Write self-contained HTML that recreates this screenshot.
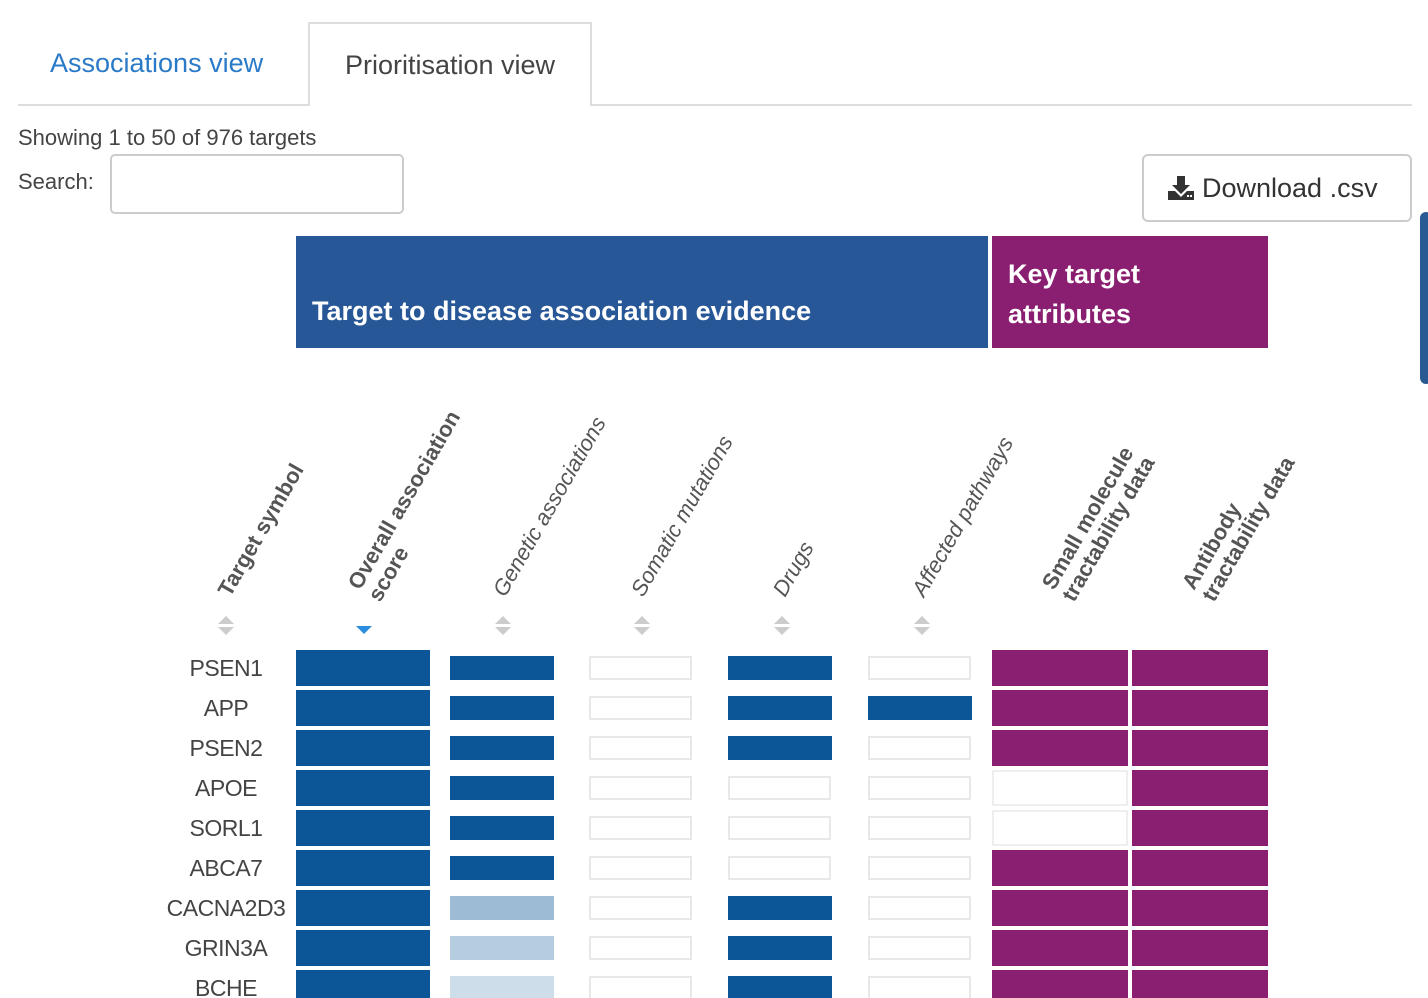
<!DOCTYPE html>
<html><head><meta charset="utf-8"><style>
body{margin:0;width:1428px;height:998px;overflow:hidden;background:#fff;font-family:"Liberation Sans",sans-serif;position:relative}
.abs{position:absolute}
</style></head><body>
<div class="abs" style="left:18px;top:104px;width:1394px;height:2px;background:#ddd"></div>
<div class="abs" style="left:50px;top:48px;font-size:27px;color:#2a7ac8">Associations view</div>
<div class="abs" style="left:308px;top:22px;width:284px;height:84px;border:2px solid #ddd;border-bottom:none;background:#fff;box-sizing:border-box;font-size:27px;color:#444;text-align:center;line-height:82px">Prioritisation view</div>
<div class="abs" style="left:18px;top:125px;font-size:22px;color:#444">Showing 1 to 50 of 976 targets</div>
<div class="abs" style="left:18px;top:169px;font-size:22px;color:#444">Search:</div>
<div class="abs" style="left:110px;top:154px;width:294px;height:60px;border:2px solid #ccc;border-radius:5px;box-sizing:border-box"></div>
<div class="abs" style="left:1142px;top:154px;width:270px;height:68px;border:2px solid #ccc;border-radius:6px;box-sizing:border-box;font-size:27px;color:#333;line-height:64px">
<svg style="position:absolute;left:24px;top:20px" width="26" height="24" viewBox="0 0 26 24"><path d="M9 0h8v9h5l-9 9-9-9h5z" fill="#333"/><path d="M0 15h7l6 6 6-6h7v9H0z" fill="#333"/><rect x="19" y="19" width="2" height="2" fill="#fff"/><rect x="22" y="19" width="2" height="2" fill="#fff"/></svg>
<span style="position:absolute;left:58px;top:0">Download .csv</span></div>
<div class="abs" style="left:1420px;top:212px;width:12px;height:172px;background:#2a5a94;border-radius:6px"></div>
<div class="abs" style="left:296px;top:236px;width:692px;height:112px;background:#285797;color:#fff;font-weight:bold;font-size:27px;box-sizing:border-box;padding:60px 0 0 16px">Target to disease association evidence</div>
<div class="abs" style="left:992px;top:236px;width:276px;height:112px;background:#8a1f72;color:#fff;font-weight:bold;font-size:27px;box-sizing:border-box;padding:18px 0 0 16px;line-height:40px">Key target<br>attributes</div>
<svg class="abs" style="left:0;top:0" width="1428" height="998" id="chart"></svg>
<script>
const targets=["PSEN1","APP","PSEN2","APOE","SORL1","ABCA7","CACNA2D3","GRIN3A","BCHE"];
const overall=[1,1,1,1,1,1,1,1,1];
const genetic=[1,1,1,1,1,1,0.4,0.3,0.2];
const somatic=[0,0,0,0,0,0,0,0,0];
const drugs=[1,1,1,0,0,0,1,1,1];
const pathways=[0,1,0,0,0,0,0,0,0];
const smallMol=[1,1,1,0,0,1,1,1,1];
const antibody=[1,1,1,1,1,1,1,1,1];
const svg=document.getElementById('chart');const NS="http://www.w3.org/2000/svg";
function el(t,a){const e=document.createElementNS(NS,t);for(const k in a)e.setAttribute(k,a[k]);svg.appendChild(e);return e;}
const rowY=i=>650+i*40;
const heads=[
 {x:230,lines:["Target symbol"],b:true},
 {x:360,lines:["Overall association","score"],b:true},
 {x:505,lines:["Genetic associations"],b:false},
 {x:643,lines:["Somatic mutations"],b:false},
 {x:785,lines:["Drugs"],b:false},
 {x:924,lines:["Affected pathways"],b:false},
 {x:1054,lines:["Small molecule","tractability data"],b:true},
 {x:1194,lines:["Antibody","tractability data"],b:true}];
heads.forEach((h)=>{
 h.lines.forEach((l,li)=>{
  const ox=h.x+li*20, oy=(h.lines.length>1?591:598)+li*12;
  const t=el('text',{x:ox,y:oy,transform:`rotate(-60 ${ox} ${oy})`,'font-size':22,fill:'#555','font-weight':h.b?'bold':'normal','font-style':h.b?'normal':'italic','font-family':'Liberation Sans, sans-serif'});
  
  
  t.textContent=l;
 });
});
const sortX=[226,364,503,642,782,922];
sortX.forEach((x,i)=>{
 if(i===1){const p=el('path',{d:`M${x-8} 626 L${x+8} 626 L${x} 634 Z`,fill:'#2a8de0'});}
 else{const p=el('path',{d:`M${x-8} 624 L${x+8} 624 L${x} 616 Z M${x-8} 627 L${x+8} 627 L${x} 635 Z`,fill:'#ccc'});}
});
const blue=[12,85,150],purple='#8a1f72';
function bcol(v){const r=Math.round(255-(255-blue[0])*v),g=Math.round(255-(255-blue[1])*v),b=Math.round(255-(255-blue[2])*v);return `rgb(${r},${g},${b})`;}
targets.forEach((t,i)=>{
 const y=rowY(i);
 const tx=el('text',{x:226,y:y+26,'text-anchor':'middle','font-size':23,fill:'#444','font-family':'Liberation Sans, sans-serif','letter-spacing':'-0.5'});
 
 
 tx.textContent=t;
 const o=el('rect',{x:296,y:y,width:134,height:36,fill:bcol(overall[i])});
 
 
 [[450,genetic,'genetic-cell'],[589,somatic,'somatic-cell'],[728,drugs,'drugs-cell'],[868,pathways,'pathways-cell']].forEach(([x,arr,n])=>{
  const v=arr[i];
  const r=el('rect',v>0?{x:x,y:y+6,width:104,height:24,fill:bcol(v)}:{x:x+1,y:y+7,width:101,height:22,fill:'#fff',stroke:'#e8e8e8','stroke-width':2});
  
  
 });
 [[992,smallMol,'small-molecule-cell'],[1132,antibody,'antibody-cell']].forEach(([x,arr,n])=>{
  const v=arr[i];
  const r=el('rect',v>0?{x:x,y:y,width:136,height:36,fill:purple}:{x:x+1,y:y+1,width:134,height:34,fill:'#fff',stroke:'#e8e8e8','stroke-width':1.5});
  
  
 });
});
</script>
</body></html>
